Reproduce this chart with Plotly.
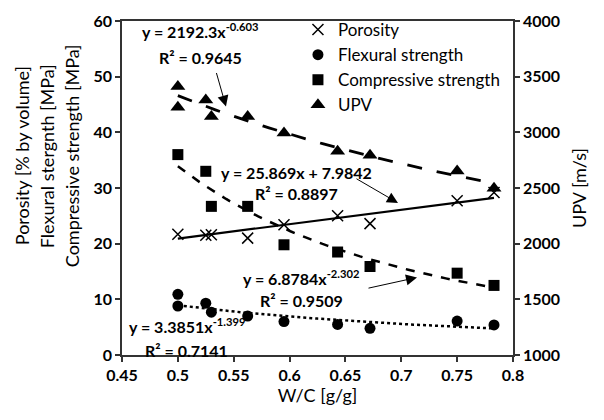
import numpy as np
import plotly.graph_objects as go

# ---------------- data ----------------
por_x = [0.5, 0.525, 0.53, 0.5625, 0.595, 0.643, 0.672, 0.75, 0.783]
por_y = [21.7, 21.5, 21.6, 21.0, 23.4, 25.0, 23.6, 27.7, 29.2]

flex_x = [0.5, 0.5, 0.525, 0.53, 0.5625, 0.595, 0.643, 0.672, 0.75, 0.783]
flex_y = [10.9, 8.8, 9.3, 7.7, 7.0, 6.0, 5.5, 4.8, 6.1, 5.4]

comp_x = [0.5, 0.525, 0.53, 0.5625, 0.595, 0.643, 0.672, 0.75, 0.783]
comp_y = [36.0, 33.0, 26.7, 26.7, 19.8, 18.5, 15.9, 14.7, 12.5]

upv_x = [0.5, 0.5, 0.525, 0.53, 0.5625, 0.595, 0.643, 0.672, 0.75, 0.783]
upv_y = [3411, 3225, 3291, 3143, 3143, 2994, 2830, 2795, 2652, 2497]

# trendline coefficients as displayed on the chart
por_fit = [25.869, 7.9842]      # linear: a*x + b
flex_fit = [3.3851, -1.399]     # power: a*x^b
comp_fit = [6.8784, -2.302]
upv_fit = [2192.3, -0.603]

x_ticks = [0.45, 0.5, 0.55, 0.6, 0.65, 0.7, 0.75, 0.8]

# ---------------- figure ----------------
FONT = "Lato"
tx = np.linspace(min(por_x), max(por_x), 60)

fig = go.Figure()

fig.add_trace(go.Scatter(x=por_x, y=por_y, mode="markers", name="Porosity",
                         marker=dict(symbol="x-thin-open", size=11, line=dict(width=1.5, color="black"), color="black")))
fig.add_trace(go.Scatter(x=flex_x, y=flex_y, mode="markers", name="Flexural strength",
                         marker=dict(symbol="circle", size=11, color="black")))
fig.add_trace(go.Scatter(x=comp_x, y=comp_y, mode="markers", name="Compressive strength",
                         marker=dict(symbol="square", size=11, color="black")))
fig.add_trace(go.Scatter(x=upv_x, y=upv_y, mode="markers", name="UPV", yaxis="y2",
                         marker=dict(symbol="triangle-up", size=13, color="black")))

# trendlines
fig.add_trace(go.Scatter(x=tx, y=por_fit[0] * tx + por_fit[1], mode="lines", showlegend=False,
                         line=dict(color="black", width=2.2)))
fig.add_trace(go.Scatter(x=tx, y=flex_fit[0] * tx ** flex_fit[1], mode="lines", showlegend=False,
                         line=dict(color="black", width=2.5, dash="dot")))
fig.add_trace(go.Scatter(x=tx, y=comp_fit[0] * tx ** comp_fit[1], mode="lines", showlegend=False,
                         line=dict(color="black", width=2.5, dash="dash")))
fig.add_trace(go.Scatter(x=tx, y=upv_fit[0] * tx ** upv_fit[1], mode="lines", showlegend=False,
                         yaxis="y2", line=dict(color="black", width=2.8, dash="longdash")))

L, R, T, B = 122, 513, 19, 355


def P(px, py):
    return (px - L) / (R - L), (B - py) / (B - T)


ann = []


def txt(px, py, s, size=16, bold=True):
    x, y = P(px, py)
    ann.append(dict(xref="paper", yref="paper", x=x, y=y, text=(f"<b>{s}</b>" if bold else s),
                    showarrow=False, xanchor="center", yanchor="middle",
                    font=dict(family=FONT, size=size, color="black")))


txt(200, 29, "y = 2192.3x<sup>-0.603</sup>")
txt(200, 56, "R² = 0.9645")
txt(296, 171, "y = 25.869x + 7.9842")
txt(296, 193, "R² = 0.8897")
txt(301, 277, "y = 6.8784x<sup>-2.302</sup>")
txt(301, 300, "R² = 0.9509")
txt(187, 325, "y = 3.3851x<sup>-1.399</sup>")
txt(186, 350, "R² = 0.7141")


def arrow(hx, hy, tx_, ty_):
    x, y = P(hx, hy)
    ann.append(dict(xref="paper", yref="paper", x=x, y=y, ax=tx_ - hx, ay=ty_ - hy,
                    text="", showarrow=True, arrowhead=2, arrowsize=2.2, arrowwidth=1,
                    arrowcolor="black"))


arrow(226, 105, 216, 70)
arrow(398, 202, 355, 177)
arrow(417, 277, 367, 288)

# left axis titles (three lines)
for i, s in enumerate(["Porosity [% by volume]", "Flexural stergnth [MPa]", "Compressive strength [MPa]"]):
    x, y = P(22 + 25 * i, 155)
    ann.append(dict(xref="paper", yref="paper", x=x, y=y, text=s, textangle=-90, showarrow=False,
                    xanchor="center", yanchor="middle", font=dict(family=FONT, size=18, color="black")))

axis_common = dict(showline=True, linecolor="#333333", linewidth=1.5, ticks="outside", ticklen=5,
                   tickcolor="#333333", tickwidth=1.5, showgrid=False, zeroline=False,
                   tickfont=dict(family=FONT, size=16, color="black", weight="bold"))

fig.update_layout(
    width=604, height=420,
    margin=dict(l=L, r=604 - R, t=T, b=420 - B),
    paper_bgcolor="white", plot_bgcolor="white",
    font=dict(family=FONT, color="black"),
    xaxis=dict(range=[0.45, 0.8], tickvals=x_ticks, ticktext=[f"{v:g}" for v in x_ticks], mirror=True,
               title=dict(text="W/C [g/g]", font=dict(family=FONT, size=18), standoff=6), **axis_common),
    yaxis=dict(range=[0, 60], dtick=10, **axis_common),
    yaxis2=dict(range=[1000, 4000], dtick=500, overlaying="y", side="right",
                title=dict(text="UPV [m/s]", font=dict(family=FONT, size=18), standoff=14), **axis_common),
    legend=dict(x=0.45, y=1.027, xanchor="left", yanchor="top", bgcolor="rgba(0,0,0,0)",
                font=dict(family=FONT, size=17, color="black"), tracegroupgap=0, itemwidth=30),
    annotations=ann,
    showlegend=True,
)

fig.write_html("out.html")
